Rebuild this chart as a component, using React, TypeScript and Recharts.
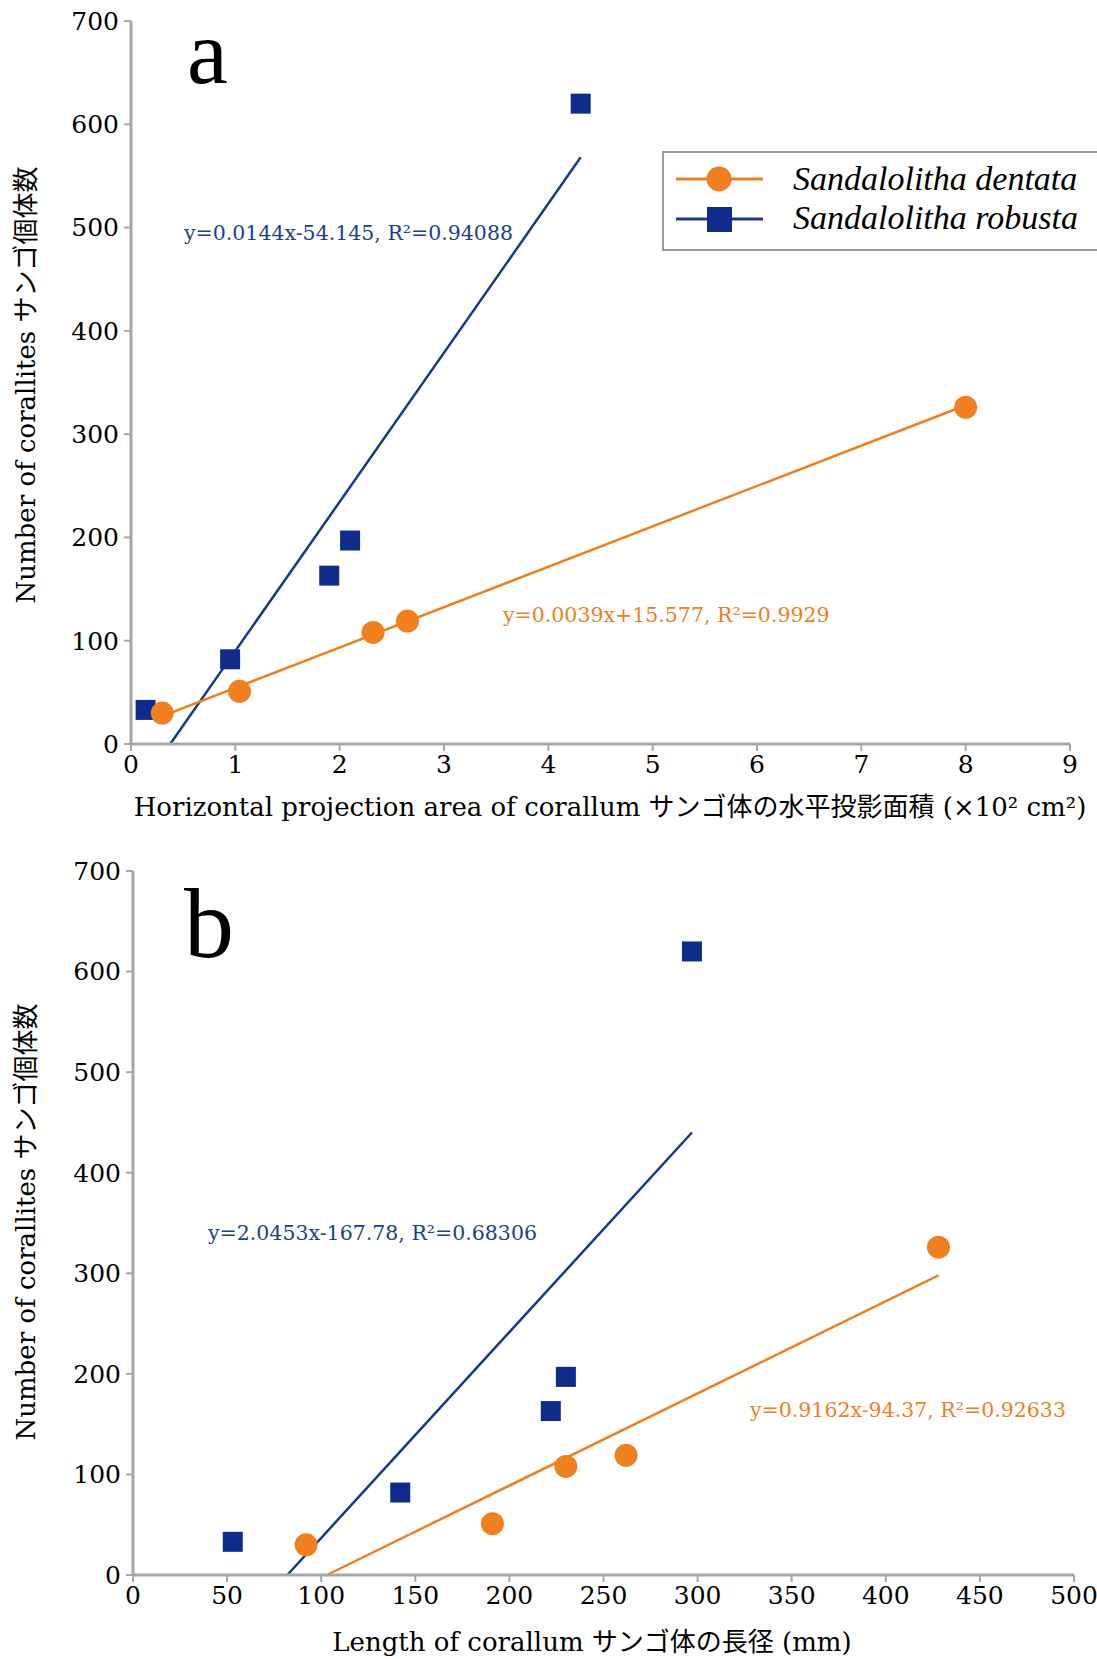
import React from 'react';
import { ScatterChart, Scatter, XAxis, YAxis, ReferenceLine } from 'recharts';

// counts of corallites per specimen (same specimens in both panels)
const dentataCount = [30, 51, 108, 119, 326];
const robustaCount = [33, 82, 163, 197, 620];

// panel a: horizontal projection area (x10^2 cm2)
const dentataArea = [0.3, 1.04, 2.32, 2.65, 8.0];
const robustaArea = [0.14, 0.95, 1.9, 2.1, 4.31];

// panel b: length of corallum (mm)
const dentataLength = [92, 191, 230, 262, 428];
const robustaLength = [53, 142, 222, 230, 297];

// trend line end points
const dentataAreaFit = [{ x: 0.3, y: 27 }, { x: 8.0, y: 328 }];
const robustaAreaFit = [{ x: 0.376, y: 0 }, { x: 4.31, y: 568 }];
const dentataLengthFit = [{ x: 103, y: 0 }, { x: 428, y: 298 }];
const robustaLengthFit = [{ x: 82, y: 0 }, { x: 297, y: 440 }];

const countTicks = [0, 100, 200, 300, 400, 500, 600, 700];
const areaTicks = [0, 1, 2, 3, 4, 5, 6, 7, 8, 9];
const lengthTicks = [0, 50, 100, 150, 200, 250, 300, 350, 400, 450, 500];

const seriesNames = ['Sandalolitha dentata', 'Sandalolitha robusta'];
const areaEquations = ['y=0.0039x+15.577, R²=0.9929', 'y=0.0144x-54.145, R²=0.94088'];
const lengthEquations = ['y=0.9162x-94.37, R²=0.92633', 'y=2.0453x-167.78, R²=0.68306'];

const ORANGE = '#F07F20';
const BLUE = '#0F2C8A';
const BLUE_LINE = '#16388E';
const BLUE_TEXT = '#1B3F90';
const AXIS = '#A6A6A6';
const SERIF = '"DejaVu Serif", "Noto Sans CJK JP", serif';
const TIMES = '"Liberation Serif", serif';

const toPoints = (xs: number[], ys: number[]) => xs.map((x, i) => ({ x, y: ys[i] }));

const circleShape = (p: any) => <circle cx={p.cx} cy={p.cy} r={11.5} fill={ORANGE} />;
const squareShape = (p: any) => <rect x={p.cx - 10} y={p.cy - 10} width={20} height={20} fill={BLUE} />;

interface PanelProps {
  top: number;
  height: number;
  margin: { top: number; right: number; left: number; bottom: number };
  yWidth: number;
  xHeight: number;
  xDomain: [number, number];
  xTicks: number[];
  dentataX: number[];
  robustaX: number[];
  dentataFit: { x: number; y: number }[];
  robustaFit: { x: number; y: number }[];
  children?: React.ReactNode;
}

const Panel = (props: PanelProps) => {
  const tick = { fontSize: 25, fill: '#000', fontFamily: SERIF };
  return (
    <div style={{ position: 'absolute', left: 0, top: props.top, width: 1097, height: props.height }}>
      <ScatterChart width={1097} height={props.height} margin={props.margin}>
        <XAxis
          type="number"
          dataKey="x"
          domain={props.xDomain}
          ticks={props.xTicks}
          interval={0}
          height={props.xHeight}
          axisLine={{ stroke: AXIS, strokeWidth: 3 }}
          tickLine={{ stroke: AXIS, strokeWidth: 2 }}
          tickSize={7}
          tickMargin={4}
          tick={tick}
        />
        <YAxis
          type="number"
          dataKey="y"
          domain={[0, 700]}
          ticks={countTicks}
          interval={0}
          width={props.yWidth}
          axisLine={{ stroke: AXIS, strokeWidth: 3 }}
          tickLine={{ stroke: AXIS, strokeWidth: 2 }}
          tickSize={7}
          tickMargin={5}
          tick={tick}
        />
        <Scatter data={toPoints(props.robustaX, robustaCount)} shape={squareShape} isAnimationActive={false} />
        <Scatter data={toPoints(props.dentataX, dentataCount)} shape={circleShape} isAnimationActive={false} />
        <ReferenceLine segment={props.robustaFit} stroke={BLUE_LINE} strokeWidth={2.5} />
        <ReferenceLine segment={props.dentataFit} stroke={ORANGE} strokeWidth={2.5} />
      </ScatterChart>
      <svg
        width={1097}
        height={props.height}
        style={{ position: 'absolute', left: 0, top: 0, pointerEvents: 'none' }}
      >
        {props.children}
      </svg>
    </div>
  );
};

const YTitle = ({ cy }: { cy: number }) => (
  <text
    x={26}
    y={cy}
    transform={`rotate(-90, 26, ${cy})`}
    textAnchor="middle"
    dominantBaseline="central"
    fontFamily={SERIF}
    fontSize={26}
    fill="#000"
  >
    Number of corallites サンゴ個体数
  </text>
);

const Legend = () => (
  <g>
    <rect x={663} y={152} width={440} height={98} fill="#fff" stroke="#9A9A9A" strokeWidth={2} />
    <line x1={676} x2={763} y1={179} y2={179} stroke={ORANGE} strokeWidth={3} />
    <circle cx={719} cy={179} r={12.5} fill={ORANGE} />
    <line x1={676} x2={763} y1={219} y2={219} stroke={BLUE_LINE} strokeWidth={3} />
    <rect x={707} y={207} width={25} height={25} fill={BLUE} />
    <text x={793} y={190} fontFamily={TIMES} fontStyle="italic" fontSize={34} fill="#000">
      {seriesNames[0]}
    </text>
    <text x={793} y={229} fontFamily={TIMES} fontStyle="italic" fontSize={34} fill="#000">
      {seriesNames[1]}
    </text>
  </g>
);

export default function App() {
  return (
    <div style={{ position: 'absolute', left: 0, top: 0, width: 1097, height: 1659, background: '#fff' }}>
      <Panel
        top={0}
        height={830}
        margin={{ top: 21, right: 27, left: 0, bottom: 0 }}
        yWidth={131}
        xHeight={86}
        xDomain={[0, 9]}
        xTicks={areaTicks}
        dentataX={dentataArea}
        robustaX={robustaArea}
        dentataFit={dentataAreaFit}
        robustaFit={robustaAreaFit}
      >
        <text x={187} y={83} fontFamily={TIMES} fontSize={92} fill="#000">a</text>
        <text x={184} y={240} fontFamily={SERIF} fontSize={20.5} fill={BLUE_TEXT}>{areaEquations[1]}</text>
        <text x={503} y={622} fontFamily={SERIF} fontSize={20.5} fill={ORANGE}>{areaEquations[0]}</text>
        <YTitle cy={385} />
        <text x={610} y={807} textAnchor="middle" dominantBaseline="central" fontFamily={SERIF} fontSize={26} fill="#000">
          Horizontal projection area of corallum サンゴ体の水平投影面積 (×10² cm²)
        </text>
        <Legend />
      </Panel>
      <Panel
        top={830}
        height={829}
        margin={{ top: 41, right: 23, left: 0, bottom: 0 }}
        yWidth={133}
        xHeight={84}
        xDomain={[0, 500]}
        xTicks={lengthTicks}
        dentataX={dentataLength}
        robustaX={robustaLength}
        dentataFit={dentataLengthFit}
        robustaFit={robustaLengthFit}
      >
        <text x={184} y={127} fontFamily={TIMES} fontSize={100} fill="#000">b</text>
        <text x={208} y={410} fontFamily={SERIF} fontSize={20.5} fill={BLUE_TEXT}>{lengthEquations[1]}</text>
        <text x={750} y={587} fontFamily={SERIF} fontSize={20.5} fill={ORANGE}>{lengthEquations[0]}</text>
        <YTitle cy={392} />
        <text x={592} y={812} textAnchor="middle" dominantBaseline="central" fontFamily={SERIF} fontSize={26} fill="#000">
          Length of corallum サンゴ体の長径 (mm)
        </text>
      </Panel>
    </div>
  );
}
